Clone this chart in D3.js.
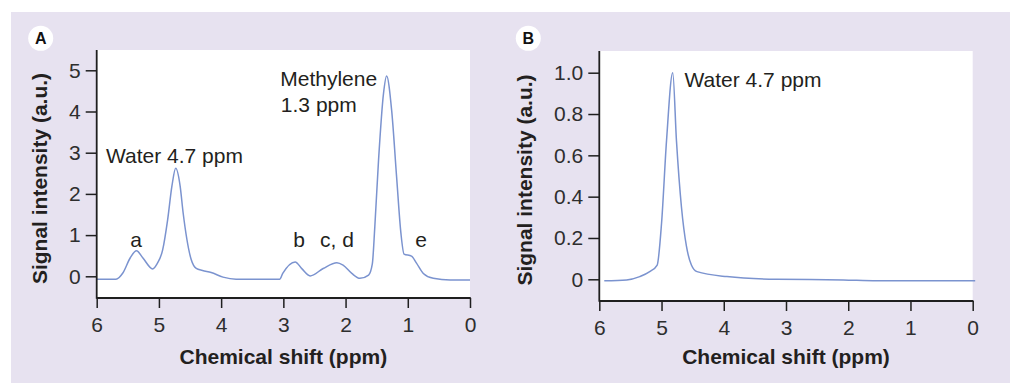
<!DOCTYPE html>
<html>
<head>
<meta charset="utf-8">
<script src="https://cdn.jsdelivr.net/npm/d3@7"></script>
<style>
  html, body { margin: 0; padding: 0; background: #ffffff; }
  svg { display: block; font-family: "Liberation Sans", Arial, sans-serif; }
</style>
</head>
<body>
<svg id="chart" width="1010" height="383"></svg>
<script>
// ---------------- DATA ----------------
// Panel A: spectrum (ppm, intensity a.u.)
const shiftA = [6.00, 5.69, 5.58, 5.46, 5.36, 5.26, 5.10, 5.03, 4.94, 4.86, 4.79, 4.73, 4.66, 4.61, 4.48, 4.40, 4.30, 4.16, 3.97, 3.76, 3.06, 3.01, 2.81, 2.70, 2.57, 2.36, 2.14, 2.04, 1.90, 1.77, 1.63, 1.57, 1.53, 1.47, 1.39, 1.34, 1.26, 1.18, 1.11, 1.06, 0.94, 0.86, 0.75, 0.59, 0.32, 0.00];
const signalA = [-0.07, -0.07, 0.08, 0.45, 0.62, 0.45, 0.18, 0.30, 0.64, 1.37, 2.20, 2.62, 2.20, 1.53, 0.40, 0.19, 0.14, 0.09, -0.02, -0.07, -0.07, 0.07, 0.35, 0.18, 0.01, 0.19, 0.33, 0.27, 0.07, -0.05, 0.03, 0.30, 1.20, 2.82, 4.44, 4.86, 4.04, 2.42, 1.04, 0.54, 0.49, 0.32, 0.07, -0.05, -0.09, -0.09];
// Panel B: water-only spectrum
const shiftB = [5.92, 5.56, 5.35, 5.19, 5.07, 5.00, 4.92, 4.82, 4.76, 4.68, 4.60, 4.52, 4.43, 3.95, 3.15, 2.08, 1.54, -0.04];
const signalB = [-0.007, -0.003, 0.013, 0.037, 0.069, 0.27, 0.67, 1.00, 0.67, 0.35, 0.16, 0.069, 0.037, 0.013, 0.0, -0.003, -0.007, -0.007];

const xTicks = [6, 5, 4, 3, 2, 1, 0];
const yTicksA = [0, 1, 2, 3, 4, 5];
const yTicksB = [0, 0.2, 0.4, 0.6, 0.8, 1.0];
const yTickLabelsB = ["0", "0.2", "0.4", "0.6", "0.8", "1.0"];

const annotationsA = [
  { text: "Water 4.7 ppm", ppm: 5.85, v: 2.76 },
  { text: "Methylene", ppm: 3.05, v: 4.63 },
  { text: "1.3 ppm", ppm: 3.04, v: 4.00 },
  { text: "a", ppm: 5.46, v: 0.72 },
  { text: "b", ppm: 2.84, v: 0.72 },
  { text: "c, d", ppm: 2.41, v: 0.72 },
  { text: "e", ppm: 0.88, v: 0.72 }
];
const annotationsB = [
  { text: "Water 4.7 ppm", ppm: 4.63, v: 0.93 }
];
const xTitle = "Chemical shift (ppm)";
const yTitle = "Signal intensity (a.u.)";

// ---------------- STYLE ----------------
const bg = "#e7e2f0";
const lineColor = "#7b93cf";
const inkColor = "#231f20";
const axisColor = "#1f1f1f";

const svg = d3.select("#chart");
svg.append("rect").attr("x", 11).attr("y", 12).attr("width", 999).attr("height", 371).attr("fill", bg);

function panel(cfg) {
  const g = svg.append("g");
  const x = d3.scaleLinear().domain([6, 0]).range([cfg.left, cfg.right]);
  const y = d3.scaleLinear().domain(cfg.yDomain).range(cfg.yRange);

  // plot area
  g.append("rect")
    .attr("x", cfg.left).attr("y", cfg.top)
    .attr("width", cfg.right - cfg.left).attr("height", cfg.bottom - cfg.top)
    .attr("fill", "#ffffff");

  // line
  const data = cfg.xs.map((d, i) => [d, cfg.ys[i]]);
  const line = d3.line().x(d => x(d[0])).y(d => y(d[1])).curve(cfg.curve);
  g.append("path").datum(data).attr("d", line)
    .attr("fill", "none").attr("stroke", lineColor).attr("stroke-width", 1.5);

  // x axis
  const xa = g.append("g").attr("transform", `translate(0,${cfg.bottom})`)
    .call(d3.axisBottom(x).tickValues(xTicks).tickSize(10).tickSizeOuter(0).tickPadding(cfg.xPad).tickFormat(d3.format("d")));
  xa.select(".domain").remove();
  xa.selectAll("line").attr("stroke", axisColor).attr("stroke-width", 1.5);
  xa.selectAll("text").attr("fill", "#2e2e2e").style("font-size", "21px").style("font-family", "Liberation Sans, Arial, sans-serif");

  // y axis
  const ya = g.append("g").attr("transform", `translate(${cfg.left},0)`)
    .call(d3.axisLeft(y).tickValues(cfg.yTicks).tickSize(11).tickSizeOuter(0).tickPadding(5)
      .tickFormat((d, i) => cfg.yLabels[i]));
  ya.select(".domain").remove();
  ya.selectAll("line").attr("stroke", axisColor).attr("stroke-width", 1.5);
  ya.selectAll("text").attr("fill", "#2e2e2e").style("font-size", "21px").style("font-family", "Liberation Sans, Arial, sans-serif");

  // axis lines
  g.append("line").attr("x1", cfg.left).attr("x2", cfg.left).attr("y1", cfg.top).attr("y2", cfg.bottom + 0.75)
    .attr("stroke", axisColor).attr("stroke-width", 1.8);
  g.append("line").attr("x1", cfg.left).attr("x2", cfg.right + 0.75).attr("y1", cfg.bottom).attr("y2", cfg.bottom)
    .attr("stroke", axisColor).attr("stroke-width", 1.8);

  // annotations
  cfg.ann.forEach(a => {
    g.append("text").attr("x", x(a.ppm)).attr("y", y(a.v))
      .attr("fill", inkColor).style("font-size", "21px")
      .attr("text-anchor", "start")
      .text(a.text);
  });

  // titles
  g.append("text").attr("x", (cfg.left + cfg.right) / 2).attr("y", 364)
    .attr("text-anchor", "middle").attr("fill", inkColor)
    .style("font-size", "21px").style("font-weight", "bold").text(xTitle);
  g.append("text").attr("transform", `translate(${cfg.yTitleX},${cfg.yTitleY}) rotate(-90)`)
    .attr("text-anchor", "middle").attr("fill", inkColor)
    .style("font-size", "21px").style("font-weight", "bold").text(yTitle);

  // panel letter
  g.append("circle").attr("cx", cfg.letterX).attr("cy", 38.3).attr("r", 12.5).attr("fill", "#ffffff");
  g.append("text").attr("x", cfg.letterX).attr("y", 44.2).attr("text-anchor", "middle")
    .attr("fill", "#111").style("font-size", "16px").style("font-weight", "bold").text(cfg.letter);
}

panel({
  left: 96.7, right: 470, top: 50, bottom: 298,
  yDomain: [0, 5], yRange: [276.3, 70.3],
  yTicks: yTicksA, yLabels: yTicksA.map(String),
  xs: shiftA, ys: signalA, curve: d3.curveMonotoneX,
  ann: annotationsA, xPad: 9,
  yTitleX: 47, yTitleY: 178.5,
  letterX: 40.7, letter: "A"
});

panel({
  left: 599.3, right: 972.7, top: 51, bottom: 301,
  yDomain: [0, 1], yRange: [279.3, 72.7],
  yTicks: yTicksB, yLabels: yTickLabelsB,
  xs: shiftB, ys: signalB, curve: d3.curveMonotoneX,
  ann: annotationsB, xPad: 9,
  yTitleX: 532, yTitleY: 180,
  letterX: 528.3, letter: "B"
});
</script>
</body>
</html>
